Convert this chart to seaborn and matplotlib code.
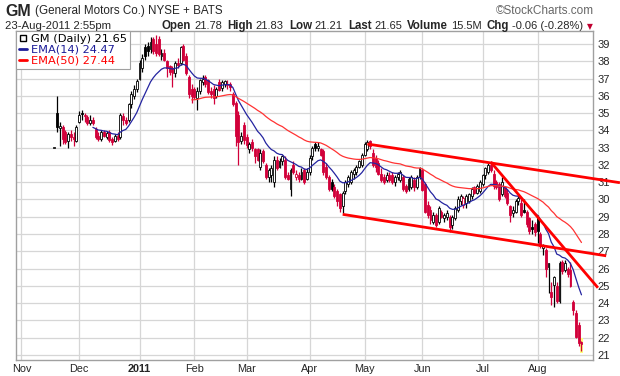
import numpy as np
import pandas as pd
import matplotlib
matplotlib.use("Agg")
import matplotlib.pyplot as plt
import seaborn as sns
from matplotlib.lines import Line2D

# ---------------------------------------------------------------------------
# Data: GM daily candles, 17-Nov-2010 (IPO price stub) to 23-Aug-2011
# ---------------------------------------------------------------------------
HOLIDAYS = ["2010-11-25", "2010-12-24", "2011-01-17", "2011-02-21",
            "2011-04-22", "2011-05-30", "2011-07-04"]
calendar = pd.bdate_range("2010-11-01", "2011-08-23", freq="C", holidays=HOLIDAYS)
FIRST_BAR = "2010-11-17"

opens = [
    33.0, 35.0, 34.15, 34.2, 33.9, 33.4, 33.8, 33.6, 33.4,                       # Nov
    34.5, 35.0, 34.9, 34.8, 34.4, 34.6, 34.1, 33.7, 33.5, 33.9, 33.6, 33.9,
    33.5, 33.4, 33.7, 33.6, 34.85, 34.6, 34.6, 35.5, 36.0, 36.4,                 # Dec
    37.0, 37.6, 38.8, 38.9, 38.7, 39.3, 39.0, 39.3, 38.3, 38.5, 38.0, 37.7,
    37.6, 37.3, 37.9, 37.9, 38.9, 38.3, 37.1, 36.4,                             # Jan
    36.4, 35.9, 36.3, 36.8, 37.1, 36.9, 36.3, 36.4, 36.0, 36.8, 36.45, 36.7,
    36.6, 36.7, 36.1, 35.6, 34.9, 33.4, 34.3,                                   # Feb
    33.6, 32.9, 33.3, 32.9, 32.9, 31.9, 32.8, 32.0, 31.3, 31.4, 31.0, 32.3,
    31.9, 32.2, 32.3, 31.4, 30.6, 32.0, 31.3, 31.4, 31.2, 31.7, 31.2,           # Mar
    31.6, 32.5, 33.2, 33.0, 32.9, 32.8, 31.9, 31.3, 31.0, 30.7, 30.5, 30.3,
    29.6, 30.5, 30.9, 31.0, 31.5, 31.6, 31.9, 32.0,                             # Apr
    32.6, 32.9, 33.4, 32.7, 32.4, 32.1, 31.5, 31.3, 31.1, 31.4, 31.4, 31.0,
    31.3, 31.1, 31.3, 30.8, 30.6, 30.7, 31.1, 30.7, 31.3,                       # May
    31.7, 30.9, 29.7, 29.4, 28.7, 29.1, 28.7, 29.3, 28.9, 29.0, 29.0, 28.5,
    28.9, 29.4, 29.9, 29.7, 29.8, 29.9, 30.2, 30.7, 30.4, 30.5,                 # Jun
    30.9, 31.4, 31.6, 32.0, 31.5, 31.0, 30.9, 30.3, 30.7, 30.4, 29.6, 29.2,
    29.3, 29.9, 29.8, 29.4, 29.3, 28.9, 28.4, 28.6,                             # Jul
    29.0, 28.0, 27.2, 27.1, 26.1, 24.65, 25.05, 25.0, 24.15, 26.4, 25.9, 26.0,
    25.9, 24.05, 23.45, 22.75, 21.78,                                           # Aug
]
highs = [
    33.0, 35.99, 34.5, 34.3, 34.0, 33.9, 34.0, 33.9, 34.3,
    35.1, 35.2, 35.0, 34.9, 34.9, 34.8, 34.2, 33.9, 34.0, 34.0, 33.95, 34.0,
    33.6, 33.8, 33.9, 35.0, 35.0, 34.8, 35.6, 36.3, 36.6, 37.0,
    38.1, 38.4, 39.0, 39.1, 39.4, 39.4, 39.5, 39.48, 38.7, 38.7, 38.1, 37.8,
    37.7, 38.0, 38.2, 38.9, 39.0, 38.5, 37.2, 36.7,
    36.5, 36.5, 37.0, 37.2, 37.2, 37.0, 36.5, 36.6, 36.5, 37.0, 36.9, 36.9,
    36.9, 36.8, 36.2, 35.7, 35.1, 33.9, 34.5,
    33.8, 33.3, 33.5, 33.0, 33.0, 32.9, 32.9, 32.1, 31.8, 32.0, 32.5, 32.5,
    32.4, 32.6, 32.5, 31.6, 31.8, 32.2, 31.7, 31.6, 31.8, 31.8, 31.8,
    32.6, 33.1, 33.3, 33.3, 33.0, 32.9, 32.1, 31.4, 31.2, 30.9, 30.6, 30.4,
    30.5, 31.1, 31.4, 31.7, 31.8, 32.0, 32.3, 32.7,
    33.3, 33.45, 33.45, 32.9, 32.6, 32.3, 31.8, 31.5, 31.6, 31.6, 31.6, 31.4,
    31.6, 31.7, 31.4, 30.9, 31.3, 31.4, 31.3, 31.4, 31.9,
    31.8, 31.0, 29.9, 29.6, 29.3, 29.2, 29.6, 29.4, 29.2, 29.4, 29.1, 29.1,
    29.6, 30.2, 30.3, 30.2, 30.3, 30.4, 30.7, 30.8, 30.9, 31.1,
    31.5, 31.9, 32.1, 32.2, 31.7, 31.1, 31.0, 31.3, 30.8, 30.6, 29.7, 29.6,
    30.0, 30.3, 30.0, 30.0, 29.4, 29.0, 28.8, 28.7,
    29.1, 28.1, 27.45, 27.2, 26.35, 25.2, 25.6, 25.2, 26.45, 26.5, 26.5, 26.1,
    26.4, 24.2, 23.6, 22.9, 21.83,
]
lows = [
    33.0, 33.89, 33.11, 33.2, 33.2, 33.0, 33.4, 33.1, 33.3,
    34.4, 34.6, 34.5, 34.3, 34.3, 34.3, 33.5, 33.4, 33.4, 33.6, 33.5, 33.3,
    33.15, 33.3, 33.4, 33.5, 34.3, 34.3, 34.5, 35.3, 35.8, 36.2,
    36.9, 37.4, 38.1, 38.3, 38.5, 38.4, 38.3, 38.3, 38.1, 38.0, 37.1, 37.2,
    36.5, 37.1, 37.6, 37.8, 38.0, 37.2, 35.9, 35.6,
    35.8, 35.2, 36.1, 36.6, 36.5, 36.1, 35.9, 35.5, 35.9, 36.3, 36.3, 36.5,
    36.4, 36.3, 35.4, 33.1, 32.0, 33.2, 33.2,
    33.0, 32.7, 32.8, 32.1, 32.2, 31.7, 32.1, 31.2, 31.0, 31.0, 30.7, 31.7,
    31.8, 32.0, 31.2, 31.1, 30.2, 31.5, 31.1, 31.0, 31.1, 30.9, 31.1,
    31.4, 32.3, 32.8, 32.8, 32.5, 31.4, 31.2, 30.5, 30.5, 30.1, 29.6, 29.3,
    29.2, 30.3, 30.7, 30.9, 31.2, 31.4, 31.8, 31.9,
    32.5, 32.8, 32.9, 31.9, 31.6, 31.4, 31.0, 30.9, 31.0, 31.0, 30.9, 30.8,
    31.1, 31.0, 30.5, 30.4, 30.5, 30.6, 30.5, 30.6, 31.2,
    30.5, 29.2, 28.9, 28.6, 28.6, 28.4, 28.6, 28.9, 28.7, 28.8, 28.1, 28.3,
    28.8, 29.3, 29.7, 29.5, 29.5, 29.8, 30.0, 30.3, 30.3, 30.4,
    30.8, 31.2, 31.5, 31.6, 30.6, 30.6, 29.9, 30.2, 30.1, 29.7, 28.7, 29.0,
    29.2, 29.7, 29.0, 29.2, 28.4, 28.0, 28.0, 27.9,
    27.5, 27.2, 26.8, 25.5, 24.6, 23.9, 23.8, 24.0, 24.0, 25.7, 25.8, 25.5,
    24.95, 23.3, 22.0, 21.5, 21.21,
]
closes = [
    33.0, 34.19, 34.26, 33.5, 33.3, 33.8, 33.6, 33.5, 34.2,
    34.9, 34.95, 34.85, 34.4, 34.6, 34.4, 33.6, 33.5, 33.9, 33.7, 33.85, 33.45,
    33.3, 33.65, 33.5, 34.9, 34.6, 34.45, 35.5, 36.1, 36.4, 36.86,
    37.9, 38.2, 38.3, 38.6, 39.1, 38.6, 38.5, 38.4, 38.5, 38.1, 37.6, 37.4,
    37.3, 37.9, 37.8, 38.8, 38.1, 37.3, 36.1, 36.0,
    35.95, 36.3, 36.9, 37.0, 36.7, 36.2, 36.1, 35.9, 36.4, 36.35, 36.8, 36.85,
    36.7, 36.5, 35.5, 33.7, 33.3, 33.65, 33.45,
    33.15, 33.2, 33.0, 32.5, 32.3, 32.7, 32.2, 31.3, 31.7, 31.8, 32.3, 31.8,
    32.2, 32.5, 31.3, 31.2, 31.7, 31.6, 31.5, 31.2, 31.6, 31.0, 31.6,
    32.4, 32.95, 33.0, 33.1, 32.6, 31.6, 31.3, 30.6, 30.6, 30.2, 29.9, 29.5,
    30.4, 31.0, 31.3, 31.6, 31.7, 31.9, 32.2, 32.6,
    33.2, 33.3, 33.1, 32.0, 31.9, 31.5, 31.1, 31.0, 31.4, 31.1, 31.0, 31.3,
    31.5, 31.6, 30.6, 30.5, 31.2, 31.3, 30.7, 31.3, 31.8,
    30.55, 29.3, 29.1, 28.8, 29.1, 28.5, 29.5, 29.0, 29.1, 29.2, 28.4, 29.0,
    29.5, 30.0, 30.2, 30.1, 30.2, 30.3, 30.6, 30.4, 30.8, 31.0,
    31.4, 31.8, 32.0, 31.7, 30.8, 30.7, 30.0, 31.0, 30.2, 29.8, 29.1, 29.4,
    29.9, 30.1, 29.1, 29.3, 28.6, 28.2, 28.3, 28.1,
    28.2, 27.3, 27.35, 25.95, 26.3, 24.35, 25.5, 24.1, 26.35, 25.85, 26.35, 25.7,
    25.0, 23.6, 22.05, 21.7, 21.65,
]

# Month labels on the time axis
MONTH_LABELS = ["Nov", "Dec", "2011", "Feb", "Mar", "Apr", "May", "Jun", "Jul", "Aug"]
PRICE_TICKS = list(range(21, 40))

# Hand-drawn trend lines: (date, price) end points
TREND_UPPER = [("2011-05-03", 33.21), ("2011-09-12", 30.97)]
TREND_LOWER = [("2011-04-19", 29.14), ("2011-09-05", 26.74)]
TREND_STEEP = [("2011-07-07", 32.16), ("2011-08-31", 24.89)]

HEADER_VALUES = [("Open", "21.78"), ("High", "21.83"), ("Low", "21.21"),
                 ("Last", "21.65"), ("Volume", "15.5M"), ("Chg", "-0.06 (-0.28%)")]

# ---------------------------------------------------------------------------
# Positions on a trading-day axis
# ---------------------------------------------------------------------------
opens, highs, lows, closes = map(np.array, (opens, highs, lows, closes))
start = calendar.get_loc(pd.Timestamp(FIRST_BAR))
x = np.arange(start, start + len(closes))
assert x[-1] == len(calendar) - 1


def trade_pos(date):
    """Trading-day index of a date; past the data, one step per weekday."""
    d = pd.Timestamp(date)
    if d <= calendar[-1]:
        return calendar.get_loc(d)
    return len(calendar) - 1 + np.busday_count(
        (calendar[-1] + pd.Timedelta(days=1)).date(), (d + pd.Timedelta(days=1)).date())


def ema(values, span):
    out = np.full(len(values), np.nan)
    out[span - 1] = values[:span].mean()
    a = 2.0 / (span + 1)
    for i in range(span, len(values)):
        out[i] = a * values[i] + (1 - a) * out[i - 1]
    return out


# EMAs are computed from the IPO day on (the 17-Nov stub is only the offer price)
ema14 = np.r_[np.nan, ema(closes[1:], 14)]
ema50 = np.r_[np.nan, ema(closes[1:], 50)]

month_first = pd.Series(np.arange(len(calendar)), index=calendar).groupby(
    [calendar.year, calendar.month]).first().values

# ---------------------------------------------------------------------------
# Figure
# ---------------------------------------------------------------------------
sns.set_style("white")
plt.rcParams["font.family"] = ["Liberation Sans", "DejaVu Sans"]

RED = "#d1003a"
W, H = 620, 376
fig = plt.figure(figsize=(W / 100, H / 100), dpi=100)
fig.patch.set_facecolor("white")
ax = fig.add_axes([16 / W, 1 - 360 / H, (593 - 16) / W, (360 - 31) / H])

ax.set_xlim(-2.0, 208.2)
ax.set_ylim(20.71, 39.75)

# grid
ax.set_yticks(PRICE_TICKS)
ax.set_xticks(month_first)
ax.set_xticklabels(MONTH_LABELS)
ax.grid(True, color="#d6d6d6", linewidth=0.9)
ax.set_axisbelow(True)
for lbl in ax.get_xticklabels():
    if lbl.get_text() == "2011":
        lbl.set_fontweight("bold")
ax.yaxis.tick_right()
ax.tick_params(axis="y", length=0, pad=3, labelsize=8)
ax.tick_params(axis="x", length=2, width=0.6, color="#999999", pad=1, labelsize=7.8)
for s in ax.spines.values():
    s.set_color("#a0a0a0")
    s.set_linewidth(1.0)

# yellow highlight behind last bar
ax.bar(x[-1], highs[-1] - lows[-1] + 0.25, bottom=lows[-1] - 0.12, width=1.3,
       color="#ffff80", zorder=1.5, linewidth=0)

# candles: red when close below previous close, hollow when close >= open
prev = np.r_[closes[0], closes[:-1]]
col = np.where(closes < prev, RED, "black")
hollow = closes >= opens
ax.vlines(x, lows, highs, colors=col, linewidth=0.9, zorder=2)
body_lo = np.minimum(opens, closes)
body_h = np.maximum(np.abs(closes - opens), 0.05)
ax.bar(x, body_h, bottom=body_lo, width=0.7,
       color=np.where(hollow, "white", col), edgecolor=col, linewidth=0.6, zorder=3)

# EMA lines
sns.lineplot(x=x, y=ema14, ax=ax, color="#2424a0", linewidth=0.9, zorder=4)
sns.lineplot(x=x, y=ema50, ax=ax, color="#ff3333", linewidth=0.9, zorder=4)

# trend lines (they run over the price scale like the original)
for seg in (TREND_UPPER, TREND_LOWER, TREND_STEEP):
    xs = [trade_pos(d) for d, _ in seg]
    ys = [p for _, p in seg]
    ax.plot(xs, ys, color="#ff0000", linewidth=2.0, solid_capstyle="butt",
            clip_on=False, zorder=5)

# legend box
handles = [
    Line2D([], [], color="black", marker="s", markersize=4, markerfacecolor="white",
           linestyle="none"),
    Line2D([], [], color="#1c1c99", linewidth=2),
    Line2D([], [], color="#ff0000", linewidth=2),
]
leg = ax.legend(handles, ["GM (Daily) 21.65", "EMA(14) 24.47", "EMA(50) 27.44"],
                loc="upper left", bbox_to_anchor=(0, 1), borderaxespad=0,
                fancybox=False, framealpha=1, edgecolor="#a0a0a0",
                handlelength=0.7, handletextpad=0.3, labelspacing=0.05,
                borderpad=0.3, prop={"family": "DejaVu Sans", "size": 8.2})
leg.get_frame().set_linewidth(0.8)
for txt, c in zip(leg.get_texts(), ["black", "#1c1c99", "#ff0000"]):
    txt.set_color(c)
leg.set_zorder(10)

# ---------------------------------------------------------------------------
# Header text
# ---------------------------------------------------------------------------
def fx(px):
    return px / W


def fy(py):
    return 1 - py / H


renderer = fig.canvas.get_renderer()


def put(xpx, ypx, s, **kw):
    t = fig.text(fx(xpx), fy(ypx), s, va="center", ha="left", **kw)
    bb = t.get_window_extent(renderer)
    return bb.x1


end = put(5, 11, "GM", fontsize=11.5, fontweight="bold")
put(end + 4, 11, "(General Motors Co.) NYSE + BATS", fontsize=8.4)
fig.text(fx(594), fy(11), "\u00a9StockCharts.com", ha="right", va="center",
         fontsize=8.5, color="#666666")
put(5, 26, "23-Aug-2011 2:55pm", fontsize=8.2)

cur = 162
for lab, val in HEADER_VALUES:
    cur = put(cur, 26, lab, fontsize=8.3, fontweight="bold") + 3
    cur = put(cur, 26, val, fontsize=8.0) + 5
fig.text(fx(cur - 1), fy(27), "\u25BC", fontsize=5.5, color="#c00030",
         ha="left", va="center", family="DejaVu Sans")

fig.savefig("out.png", dpi=100, facecolor="white")
